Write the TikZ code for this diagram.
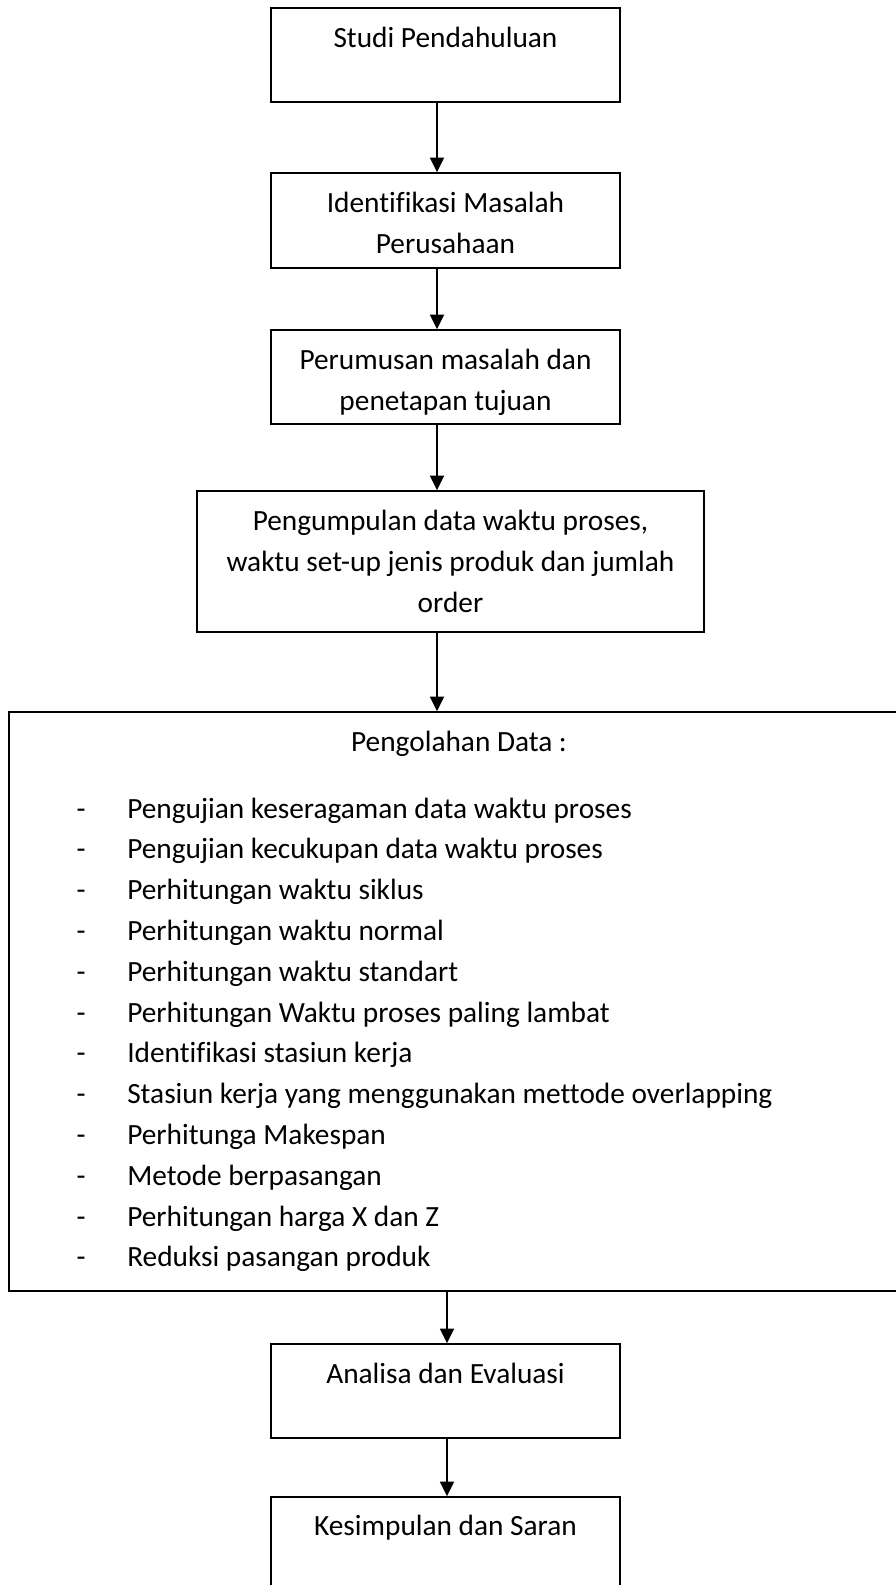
\documentclass[tikz,border=0pt]{standalone}
\usepackage{fontspec}
\setmainfont{Carlito}[Ligatures=NoCommon]
\usetikzlibrary{arrows.meta,fit}

\tikzset{
  stepbox/.style={draw, line width=1.1pt, inner sep=0pt},
  boxtext/.style={anchor=base, align=center, inner sep=0pt, font=\fontsize{22pt}{30.75pt}\selectfont},
  itemtext/.style={anchor=base west, inner sep=0pt, font=\fontsize{22pt}{30.75pt}\selectfont},
  flow/.style={line width=1.3pt, -{Triangle[width=10.5pt,length=11pt]}}
}

\begin{document}
\begin{tikzpicture}[x=0.75pt,y=-0.75pt]
\useasboundingbox (0,0) rectangle (896,1585);
\clip (0,0) rectangle (896,1585);

% Boxes
\node[stepbox, fit={(271,8) (620,102)}] (studi) {};
\node[stepbox, fit={(271,173) (620,268)}] (ident) {};
\node[stepbox, fit={(271,330) (620,424)}] (rumus) {};
\node[stepbox, fit={(197,491) (704,632)}] (kumpul) {};
\node[stepbox, fit={(9,712) (910,1291)}] (olah) {};
\node[stepbox, fit={(271,1344) (620,1438)}] (analisa) {};
\node[stepbox, fit={(271,1497) (620,1600)}] (simpul) {};

% Texts (base = last line)
\node[boxtext] (studi-t) at (445.5,47) {Studi Pendahuluan};
\node[boxtext] (ident-t) at (445.5,253) {Identifikasi Masalah\\Perusahaan};
\node[boxtext] (rumus-t) at (445.5,410) {Perumusan masalah dan\\penetapan tujuan};
\node[boxtext] (kumpul-t) at (450.5,612) {Pengumpulan data waktu proses,\\waktu set-up jenis produk dan jumlah\\order};
\node[boxtext] (olah-t) at (459,751) {Pengolahan Data :};
\foreach \txt [count=\i] in {Pengujian keseragaman data waktu proses,
    Pengujian kecukupan data waktu proses,
    Perhitungan waktu siklus,
    Perhitungan waktu normal,
    Perhitungan waktu standart,
    Perhitungan Waktu proses paling lambat,
    Identifikasi stasiun kerja,
    Stasiun kerja yang menggunakan mettode overlapping,
    Perhitunga Makespan,
    Metode berpasangan,
    Perhitungan harga X dan Z,
    Reduksi pasangan produk} {
  \node[boxtext] (dash\i) at (81,{818+40.8*(\i-1)}) {-};
  \node[itemtext] (item\i) at (127,{818+40.8*(\i-1)}) {\txt};
}
\node[boxtext] (analisa-t) at (445.5,1383) {Analisa dan Evaluasi};
\node[boxtext] (simpul-t) at (445.5,1535) {Kesimpulan dan Saran};

% Arrows
\coordinate (upper) at (437,0);
\coordinate (lower) at (447,0);
\draw[flow] (studi.south -| upper) -- (ident.north -| upper);
\draw[flow] (ident.south -| upper) -- (rumus.north -| upper);
\draw[flow] (rumus.south -| upper) -- (kumpul.north -| upper);
\draw[flow] (kumpul.south -| upper) -- (olah.north -| upper);
\draw[flow] (olah.south -| lower) -- (analisa.north -| lower);
\draw[flow] (analisa.south -| lower) -- (simpul.north -| lower);
\end{tikzpicture}
\end{document}
